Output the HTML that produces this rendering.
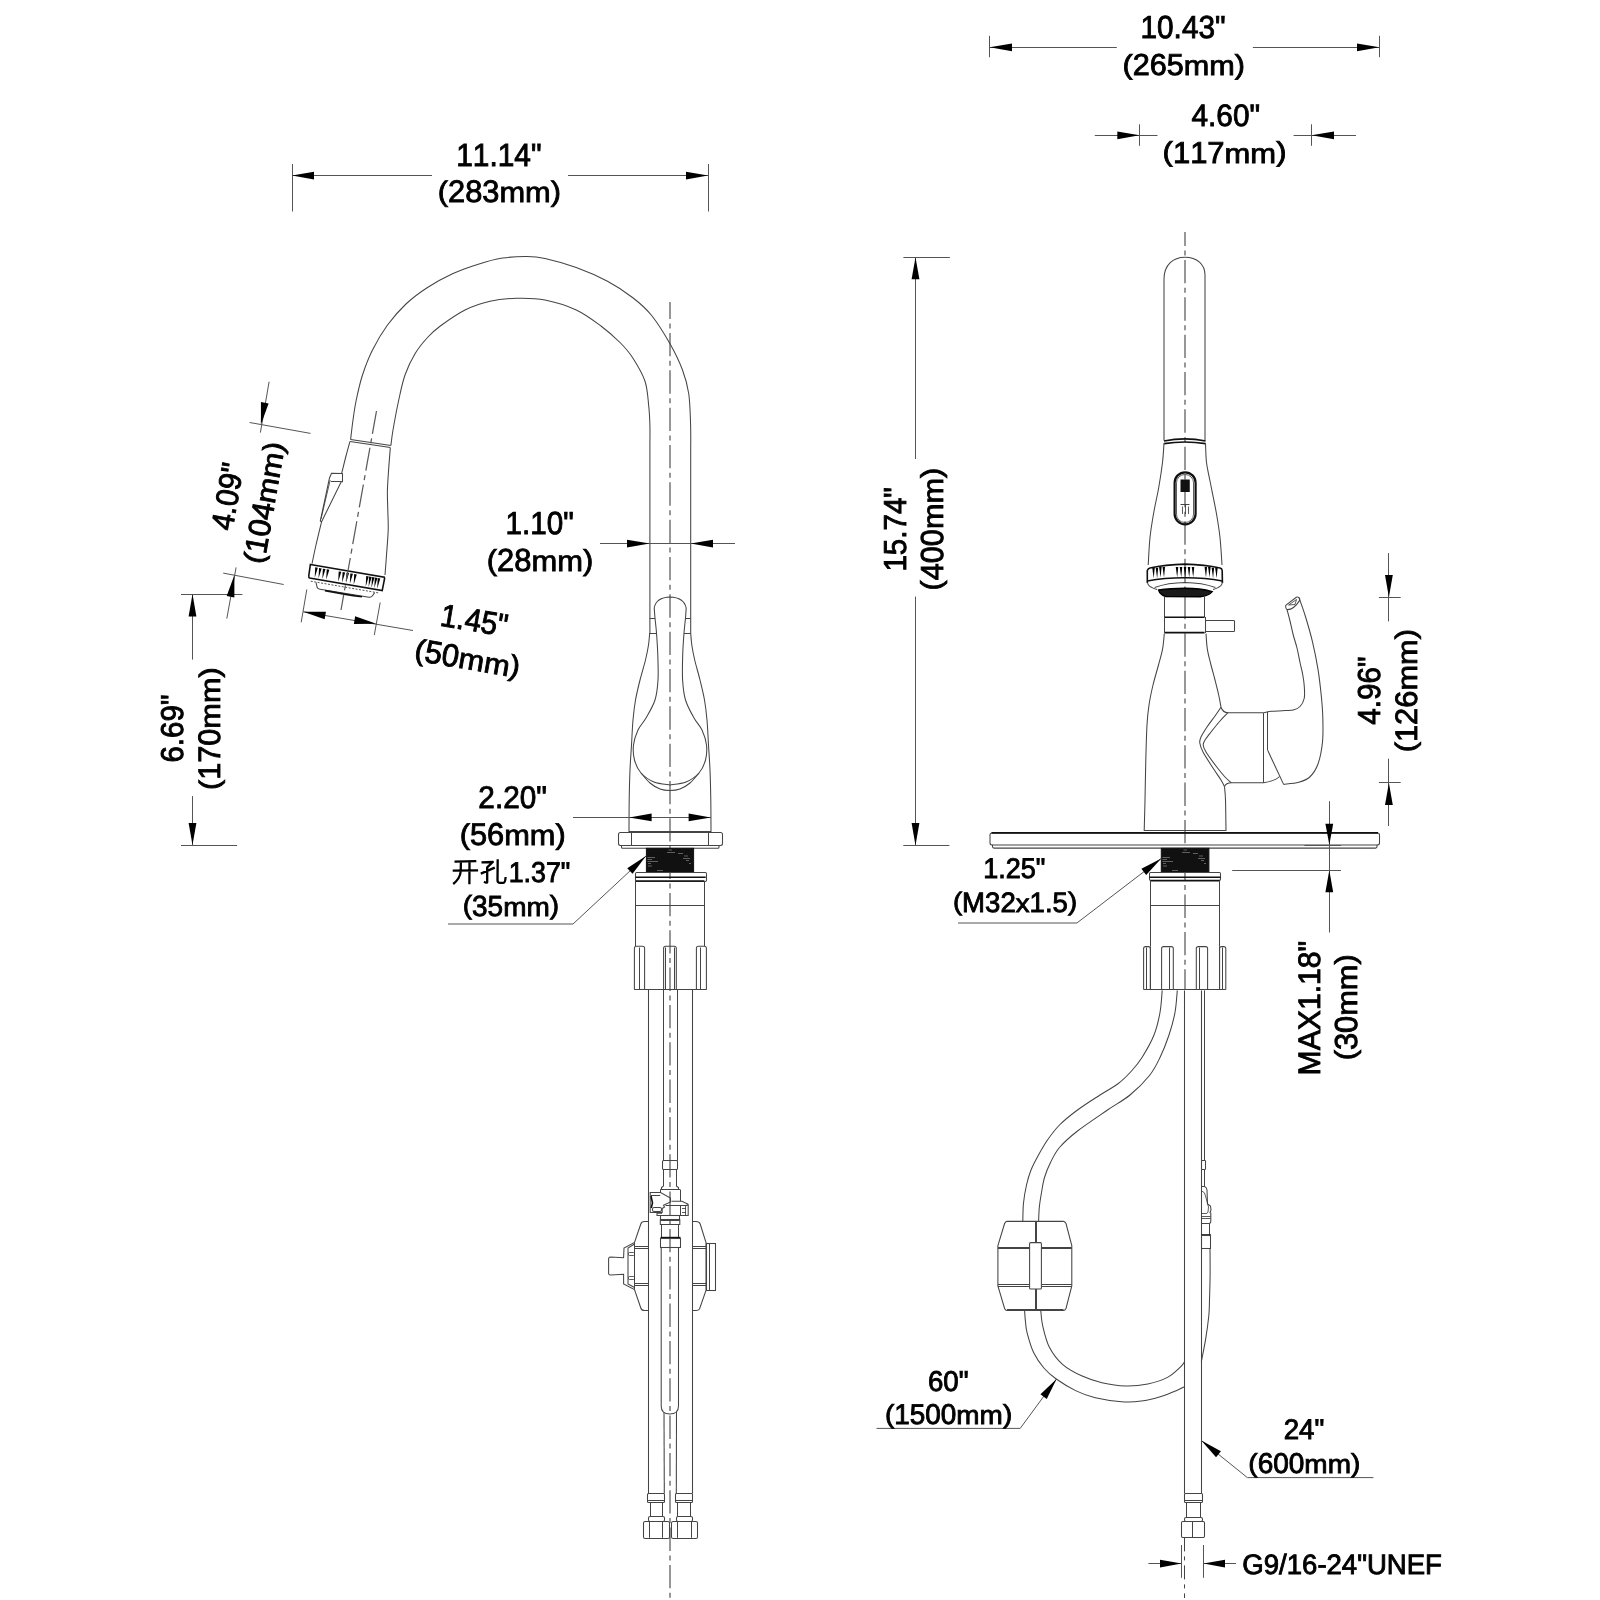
<!DOCTYPE html>
<html><head><meta charset="utf-8"><style>
html,body{margin:0;padding:0;background:#fff;}
svg{display:block;filter:grayscale(1);}
.l{stroke:#444;stroke-width:1.05;fill:none;}
.l2{stroke:#333;stroke-width:0.8;fill:none;}
.lw{stroke:#444;stroke-width:1.05;fill:#fff;}
.thick{stroke:#111;stroke-width:1.6;fill:none;}
.thick2{stroke:#111;stroke-width:2.2;fill:none;}
.c{stroke:#5a5a5a;stroke-width:1.25;fill:none;stroke-dasharray:23.33 4.5 5 4.5;}
.c2{stroke:#444;stroke-width:1;fill:none;stroke-dasharray:14 5 4 5;}
.d{stroke:#555;stroke-width:1;fill:none;}
.a{fill:#000;stroke:none;}
.blk{fill:#111;stroke:#111;stroke-width:1;}
.aer{fill:#1a1a1a;stroke:#000;stroke-width:1.4;}
.tk{stroke:#222;stroke-width:1;fill:none;}
.dot{stroke:#555;stroke-width:1;fill:none;stroke-dasharray:2 1.5;}
.t{font-family:"Liberation Sans",sans-serif;fill:#000;stroke:#000;stroke-width:0.9;font-kerning:none;text-rendering:geometricPrecision;}
.cn path{stroke:#000;stroke-width:2.3;fill:none;stroke-linecap:butt;stroke-linejoin:round;}
</style></head><body>
<svg width="1600" height="1600" viewBox="0 0 1600 1600">
<rect width="1600" height="1600" fill="#fff"/>
<path class="c" style="stroke-dashoffset:6.33" d="M670,302 V1598"/>
<path class="l" d="M350.6,439.6 C351,436.33 352.06,426.6 353,420 C353.94,413.4 354.67,407.5 356.25,400 C357.83,392.5 359.79,383.33 362.5,375 C365.21,366.67 368.33,358.33 372.5,350 C376.67,341.67 381.88,332.71 387.5,325 C393.12,317.29 399.58,310 406.25,303.75 C412.92,297.5 419.79,292.5 427.5,287.5 C435.21,282.5 444.17,277.6 452.5,273.75 C460.83,269.9 469.17,267.01 477.5,264.4 C485.83,261.79 494.25,259.42 502.5,258.1 C510.75,256.78 519.92,256.43 527,256.5 C534.08,256.57 536.79,256.67 545,258.5 C553.21,260.33 565.83,263.71 576.25,267.5 C586.67,271.29 598.12,276.25 607.5,281.25 C616.88,286.25 625.21,291.88 632.5,297.5 C639.79,303.12 645,307.29 651.25,315 C657.5,322.71 664.79,334.58 670,343.75 C675.21,352.92 679.38,361.67 682.5,370 C685.62,378.33 687.4,384.58 688.75,393.75 C690.1,402.92 690.27,415.62 690.6,425 C690.93,434.38 690.68,445.83 690.7,450 L690.7,633"/>
<path class="l" d="M390.9,445.5 C391.25,442.92 391.69,437.58 393,430 C394.31,422.42 396.75,409.17 398.75,400 C400.75,390.83 402.29,382.71 405,375 C407.71,367.29 411.25,360 415,353.75 C418.75,347.5 423.33,342.08 427.5,337.5 C431.67,332.92 433.75,330.83 440,326.25 C446.25,321.67 456.67,314.17 465,310 C473.33,305.83 481.33,303.2 490,301.25 C498.67,299.3 507.83,298.51 517,298.3 C526.17,298.09 535.12,298.05 545,300 C554.88,301.95 566.88,305.62 576.25,310 C585.62,314.38 593.96,320.83 601.25,326.25 C608.54,331.67 614.79,337.29 620,342.5 C625.21,347.71 628.33,351.04 632.5,357.5 C636.67,363.96 642.29,373.12 645,381.25 C647.71,389.38 647.93,398.96 648.75,406.25 C649.57,413.54 649.71,418.54 649.9,425 C650.09,431.46 649.9,441.67 649.9,445 L649.9,633"/>
<line class="l" x1="350.6" y1="439.6" x2="390.9" y2="445.5"/>
<line class="l" x1="350.1" y1="441.6" x2="390.4" y2="447.6"/>
<path class="l" d="M350,441.4 C349.33,443.83 347.29,451.07 346,456 C344.71,460.93 342.88,468.5 342.25,471"/>
<path class="l" d="M321.5,522 C320.58,525.83 317.58,538.05 316,545 C314.42,551.95 312.67,560.58 312,563.7"/>
<line class="l" x1="342.25" y1="471" x2="341.5" y2="474"/>
<path class="l" d="M390.3,447.9 C390.02,451.58 389.08,462.82 388.6,470 C388.12,477.18 387.53,484.33 387.4,491 C387.27,497.67 387.67,503.5 387.8,510 C387.93,516.5 388.42,522.5 388.2,530 C387.98,537.5 387.03,547.5 386.5,555 C385.97,562.5 385.25,571.67 385,575"/>
<path class="l" d="M342.5,473.6 L331.5,473.4 L329.5,478 L320.3,521 L321.5,522 L341.2,481.7 L342.5,481.7 L342.5,473.6"/>
<line class="l" x1="331" y1="481.5" x2="341.5" y2="481.5"/>
<line class="l2" x1="330.2" y1="480" x2="321" y2="519"/>
<path class="thick" d="M310.4,564.5 L384.3,577.2 L384.6,578.5 L382.2,590.6 L309.6,578 Q308.6,577.6 308.8,575.5 Z"/>
<path class="dot" d="M310.7,581.2 L379,593"/>
<path class="a" d="M315.2,567.35 L317.8,567.75 L314.71,577.69 Z"/>
<path class="a" d="M319.03,568.01 L321.63,568.41 L318.55,578.35 Z"/>
<path class="a" d="M322.87,568.67 L325.47,569.07 L322.38,579.01 Z"/>
<path class="a" d="M326.7,569.32 L329.3,569.72 L326.21,579.67 Z"/>
<path class="a" d="M338.7,571.39 L341.3,571.79 L338.21,581.73 Z"/>
<path class="a" d="M342.57,572.05 L345.18,572.45 L342.09,582.4 Z"/>
<path class="a" d="M346.45,572.72 L349.05,573.12 L345.96,583.06 Z"/>
<path class="a" d="M350.32,573.38 L352.93,573.78 L349.84,583.73 Z"/>
<path class="a" d="M354.2,574.05 L356.8,574.45 L353.71,584.39 Z"/>
<path class="a" d="M366.2,576.11 L368.8,576.51 L365.71,586.46 Z"/>
<path class="a" d="M369.07,576.61 L371.68,577.01 L368.59,586.95 Z"/>
<path class="a" d="M371.95,577.1 L374.55,577.5 L371.46,587.44 Z"/>
<path class="a" d="M374.82,577.6 L377.43,578 L374.34,587.94 Z"/>
<path class="a" d="M377.7,578.09 L380.3,578.49 L377.21,588.43 Z"/>
<path class="l" d="M316,582.3 L317.2,587.5 Q317.8,588.9 320,589.3 L369,597.3 Q371.3,597.6 372.5,595.8 L374.6,592.6"/>
<path class="thick" d="M325,590.6 Q345,594.5 362,596.7"/>
<line class="c" x1="376.5" y1="411" x2="341" y2="610"/>
<path class="l" d="M654.2,608 Q656,597.5 670,597 Q684,597.5 686.2,608"/>
<path class="l" d="M654.2,608 C654.33,609.67 654.62,613.83 655,618 C655.38,622.17 656.03,626.83 656.5,633 C656.97,639.17 657.55,647.17 657.8,655 C658.05,662.83 658.47,672.5 658,680 C657.53,687.5 657,693.67 655,700 C653,706.33 648.83,713 646,718 C643.17,723 640.08,725.5 638,730 C635.92,734.5 634.08,740 633.5,745 C632.92,750 633.25,755.33 634.5,760 C635.75,764.67 637.75,769.33 641,773 C644.25,776.67 649.17,780 654,782 C658.83,784 667.33,784.5 670,785"/>
<path class="l" d="M686.2,608 C686.08,609.67 685.87,613.83 685.5,618 C685.13,622.17 684.47,626.83 684,633 C683.53,639.17 682.93,647.17 682.7,655 C682.47,662.83 682.13,672.5 682.6,680 C683.07,687.5 683.6,693.67 685.5,700 C687.4,706.33 691.25,713 694,718 C696.75,723 699.92,725.5 702,730 C704.08,734.5 705.92,740 706.5,745 C707.08,750 706.75,755.33 705.5,760 C704.25,764.67 702.25,769.33 699,773 C695.75,776.67 690.83,780 686,782 C681.17,784 672.67,784.5 670,785"/>
<path class="l" d="M641,773 C642.5,774.67 646.83,780.33 650,783 C653.17,785.67 656.67,787.75 660,789 C663.33,790.25 666.67,790.5 670,790.5 C673.33,790.5 676.67,790.25 680,789 C683.33,787.75 686.83,785.67 690,783 C693.17,780.33 697.5,774.67 699,773"/>
<line class="l" x1="649.7" y1="618.5" x2="655" y2="618.5"/>
<line class="l" x1="649.7" y1="633.5" x2="656.5" y2="633.5"/>
<line class="l" x1="685.5" y1="618.5" x2="690.7" y2="618.5"/>
<line class="l" x1="684" y1="633.5" x2="690.7" y2="633.5"/>
<path class="l" d="M649.7,633 C649.5,635 649.2,640.5 648.5,645 C647.8,649.5 646.92,654.17 645.5,660 C644.08,665.83 641.67,673.33 640,680 C638.33,686.67 636.67,693.33 635.5,700 C634.33,706.67 633.67,712.5 633,720 C632.33,727.5 632,736.67 631.5,745 C631,753.33 630.38,760.83 630,770 C629.62,779.17 629.37,789.67 629.2,800 C629.03,810.33 629.03,826.67 629,832"/>
<path class="l" d="M690.7,633 C690.88,635 691.13,640.5 691.8,645 C692.47,649.5 693.33,654.17 694.7,660 C696.07,665.83 698.37,673.33 700,680 C701.63,686.67 703.33,693.33 704.5,700 C705.67,706.67 706.33,712.5 707,720 C707.67,727.5 708,736.67 708.5,745 C709,753.33 709.62,760.83 710,770 C710.38,779.17 710.63,789.67 710.8,800 C710.97,810.33 710.97,826.67 711,832"/>
<line class="l" x1="629" y1="831.5" x2="711" y2="831.5"/>
<rect class="l" x="618.5" y="832.5" width="104" height="13" rx="2"/>
<line class="l" x1="631.5" y1="832.5" x2="631.5" y2="845.5"/>
<line class="l" x1="708.5" y1="832.5" x2="708.5" y2="845.5"/>
<path class="l" d="M621.5,845.5 L621.5,847.3 Q621.5,848.3 622.5,848.3 L718,848.3 Q719,848.3 719,847.3 L719,845.5"/>
<rect class="blk" x="646.4" y="848.3" width="47.2" height="24.1"/>
<line x1="647.5" y1="857.5" x2="655" y2="857.5" stroke="#999" stroke-width="0.6"/>
<line x1="647.5" y1="859.5" x2="652" y2="859.5" stroke="#999" stroke-width="0.6"/>
<line x1="647.5" y1="861.5" x2="658" y2="861.5" stroke="#999" stroke-width="0.6"/>
<line x1="648" y1="863.5" x2="651" y2="863.5" stroke="#999" stroke-width="0.6"/>
<line x1="648" y1="866" x2="652" y2="866" stroke="#999" stroke-width="0.6"/>
<line x1="657" y1="870.5" x2="663" y2="870.5" stroke="#999" stroke-width="0.6"/>
<line x1="668.5" y1="850" x2="672" y2="850" stroke="#999" stroke-width="0.6"/>
<line x1="667" y1="852.5" x2="675" y2="852.5" stroke="#999" stroke-width="0.6"/>
<line x1="678" y1="853.5" x2="683" y2="853.5" stroke="#999" stroke-width="0.6"/>
<line x1="684" y1="856" x2="688" y2="856" stroke="#999" stroke-width="0.6"/>
<line x1="683" y1="858.5" x2="690" y2="858.5" stroke="#999" stroke-width="0.6"/>
<line x1="686" y1="860.5" x2="689" y2="860.5" stroke="#999" stroke-width="0.6"/>
<line x1="689" y1="863.5" x2="691" y2="863.5" stroke="#999" stroke-width="0.6"/>
<rect class="l" x="635.5" y="872.5" width="71" height="9" rx="1.2"/>
<line class="thick" x1="635.3" y1="877.3" x2="705.7" y2="877.3"/>
<line class="thick" x1="635.6" y1="881" x2="704.4" y2="881"/>
<line class="l" x1="635.5" y1="881" x2="635.5" y2="946"/>
<line class="l" x1="704.5" y1="881" x2="704.5" y2="946"/>
<line class="l" x1="635.6" y1="905.5" x2="704.4" y2="905.5"/>
<line class="l" x1="634.4" y1="989.5" x2="706.4" y2="989.5"/>
<path class="l" d="M634.4,989.8 L634.4,948.3 Q634.4,946.3 636.4,946.3 L642.6,946.3 Q644.6,946.3 644.6,948.3 L644.6,989.8"/>
<line class="l" x1="639.5" y1="947.5" x2="639.5" y2="989.8"/>
<path class="l" d="M663.6,989.8 L663.6,948.3 Q663.6,946.3 665.6,946.3 L674.3,946.3 Q676.3,946.3 676.3,948.3 L676.3,989.8"/>
<line class="l" x1="665.5" y1="947.5" x2="665.5" y2="989.8"/>
<line class="l" x1="674.5" y1="947.5" x2="674.5" y2="989.8"/>
<path class="l" d="M696.4,989.8 L696.4,948.3 Q696.4,946.3 698.4,946.3 L704.4,946.3 Q706.4,946.3 706.4,948.3 L706.4,989.8"/>
<line class="l" x1="700.5" y1="947.5" x2="700.5" y2="989.8"/>
<line class="l" x1="648.5" y1="990" x2="648.5" y2="1493.5"/>
<line class="l" x1="692.5" y1="990" x2="692.5" y2="1493.5"/>
<line class="l" x1="663.5" y1="990" x2="663.5" y2="1160.8"/>
<line class="l" x1="677.5" y1="990" x2="677.5" y2="1160.8"/>
<rect class="l" x="662.5" y="1160.5" width="15" height="9" rx="1"/>
<line class="l" x1="663.5" y1="1169.5" x2="663.5" y2="1186"/>
<line class="l" x1="676.5" y1="1169.5" x2="676.5" y2="1186"/>
<path class="l" d="M663.5,1186 L661.5,1187.5 L661.5,1189.5 M676.2,1186 L678.5,1187.5 L678.5,1189.5"/>
<line class="l" x1="660.3" y1="1189.5" x2="680" y2="1189.5"/>
<line class="l" x1="660.5" y1="1189.5" x2="660.5" y2="1192.5"/>
<line class="l" x1="680.5" y1="1189.5" x2="680.5" y2="1201.3"/>
<path class="l" d="M650.2,1192.5 L660.5,1192.5 L670.5,1198 L670.5,1202 L663.5,1205.3 L664.5,1207 L662.2,1208.5 L662.2,1212.5 L650.2,1212.5 Z"/>
<line class="l" x1="651" y1="1195.5" x2="660.2" y2="1195.5"/>
<path class="thick" d="M651,1196 L652.5,1203 L651.2,1208"/>
<rect class="l" x="652.5" y="1207.5" width="9" height="4" rx="1.5"/>
<path class="l" d="M671.5,1201.3 L682,1201.3 L687.2,1203.8 L687.2,1205.5 L665.5,1205.5"/>
<path class="l" d="M687.2,1203.8 L688.2,1204.5 L688.2,1215.5 L657,1215.5 L657,1213.3 L662,1213.3"/>
<line class="l" x1="680.5" y1="1205.5" x2="680.5" y2="1215.5"/>
<line class="l2" x1="685.5" y1="1206" x2="685.5" y2="1215.5"/>
<line class="l2" x1="682" y1="1208.5" x2="686" y2="1208.5"/>
<line class="l2" x1="682" y1="1212.5" x2="686" y2="1212.5"/>
<rect class="l" x="660.5" y="1215.5" width="19" height="4"/>
<path class="l" d="M660.3,1219.2 L660.3,1224.5 L679.8,1224.5 L679.8,1219.2"/>
<line class="l" x1="660.3" y1="1220.5" x2="679.8" y2="1220.5"/>
<line class="l" x1="661.5" y1="1224.5" x2="661.5" y2="1237.5"/>
<line class="l" x1="678.5" y1="1224.5" x2="678.5" y2="1237.5"/>
<line class="thick" x1="660.5" y1="1237.6" x2="680.5" y2="1237.6"/>
<rect class="l" x="660.5" y="1238.5" width="20" height="9"/>
<path class="l" d="M661.2,1247.4 L661.2,1406 Q661.2,1414 669.8,1414 Q678.5,1414 678.5,1406 L678.5,1247.4"/>
<line class="l" x1="664" y1="1412" x2="664.3" y2="1493.5"/>
<line class="l" x1="676.5" y1="1412" x2="676.3" y2="1493.5"/>
<path class="l" d="M648.5,1221.5 L644.5,1221.5 Q641.5,1221.5 640.8,1224 L634.5,1242.5 L624,1248 L623.6,1257.8 L610.5,1257 Q608.6,1257 608.6,1259 L608.6,1273.5 Q608.6,1275 610.5,1275 L623.6,1274.2 L623.6,1284 L634.5,1289.5 L640.8,1308 Q641.5,1310.5 644.5,1310.5 L648.5,1310.5"/>
<line class="l" x1="634.5" y1="1242.5" x2="634.5" y2="1289.5"/>
<line class="l" x1="634.5" y1="1246.5" x2="648.5" y2="1246.5"/>
<line class="l" x1="634.5" y1="1248.5" x2="648.5" y2="1248.5"/>
<line class="l" x1="634.5" y1="1283.5" x2="648.5" y2="1283.5"/>
<line class="l" x1="634.5" y1="1285.5" x2="648.5" y2="1285.5"/>
<path class="l" d="M634.5,1244 L628,1248 L628,1284 L634.5,1287.5"/>
<rect class="l2" x="628.5" y="1252.5" width="6" height="3" rx="1"/>
<rect class="l2" x="628.5" y="1276.5" width="6" height="3" rx="1"/>
<path class="l" d="M692.1,1221.5 L696,1221.5 Q699.2,1221.5 700.2,1224 L706,1242.5 L706,1290.5 L699.5,1309 Q698.5,1310.5 696,1310.5 L692.1,1310.5"/>
<rect class="l" x="706.5" y="1243.5" width="9" height="47"/>
<line class="l" x1="709.5" y1="1243.5" x2="709.5" y2="1290.5"/>
<line class="l" x1="692.1" y1="1246.5" x2="706" y2="1246.5"/>
<line class="l" x1="692.1" y1="1248.5" x2="706" y2="1248.5"/>
<line class="l" x1="692.1" y1="1283.5" x2="706" y2="1283.5"/>
<line class="l" x1="692.1" y1="1285.5" x2="706" y2="1285.5"/>
<rect class="l" x="647.5" y="1493.5" width="17" height="9" rx="1"/>
<line class="l" x1="648.1" y1="1500.5" x2="664.7" y2="1500.5"/>
<line class="l" x1="650.5" y1="1502.2" x2="650.5" y2="1516.7"/>
<line class="l" x1="662.5" y1="1502.2" x2="662.5" y2="1516.7"/>
<rect class="l" x="648.5" y="1516.5" width="16" height="5" rx="1.6"/>
<rect class="l" x="643.5" y="1521.5" width="26" height="17" rx="1.6"/>
<line class="l" x1="649.5" y1="1521.5" x2="649.5" y2="1537.8"/>
<line class="l" x1="662.5" y1="1521.5" x2="662.5" y2="1537.8"/>
<rect class="l" x="675.5" y="1493.5" width="17" height="9" rx="1"/>
<line class="l" x1="675.9" y1="1500.5" x2="692.5" y2="1500.5"/>
<line class="l" x1="677.5" y1="1502.2" x2="677.5" y2="1516.7"/>
<line class="l" x1="690.5" y1="1502.2" x2="690.5" y2="1516.7"/>
<rect class="l" x="676.5" y="1516.5" width="16" height="5" rx="1.6"/>
<rect class="l" x="671.5" y="1521.5" width="26" height="17" rx="1.6"/>
<line class="l" x1="677.5" y1="1521.5" x2="677.5" y2="1537.8"/>
<line class="l" x1="691.5" y1="1521.5" x2="691.5" y2="1537.8"/>
<line class="d" x1="292.5" y1="164" x2="292.5" y2="211.5"/>
<line class="d" x1="708.5" y1="164" x2="708.5" y2="211.5"/>
<line class="d" x1="292" y1="175.5" x2="432" y2="175.5"/>
<line class="d" x1="568" y1="175.5" x2="708" y2="175.5"/>
<path class="a" d="M292,175.6 L314,171.7 L314,179.5 Z"/>
<path class="a" d="M708,175.6 L686,179.5 L686,171.7 Z"/>
<text class="t" x="456.17" y="166" font-size="32.17" textLength="85.34" lengthAdjust="spacingAndGlyphs">11.14&quot;</text>
<text class="t" x="437.74" y="202.4" font-size="31.16" textLength="10.26" lengthAdjust="spacingAndGlyphs" transform="translate(0,200.9) scale(1,0.905) translate(0,-202.4)">(</text><text class="t" x="448" y="202.4" font-size="31.16" textLength="51.39" lengthAdjust="spacingAndGlyphs">283</text><text class="t" x="499.39" y="202.4" font-size="31.16" textLength="51.32" lengthAdjust="spacingAndGlyphs" transform="translate(0,202.4) scale(1,0.91) translate(0,-202.4)">mm</text><text class="t" x="550.7" y="202.4" font-size="31.16" textLength="10.26" lengthAdjust="spacingAndGlyphs" transform="translate(0,200.9) scale(1,0.905) translate(0,-202.4)">)</text>
<line class="d" x1="600" y1="543.5" x2="735" y2="543.5"/>
<path class="a" d="M649.7,543.6 L627,547.5 L627,539.7 Z"/>
<path class="a" d="M690.7,543.6 L713,539.7 L713,547.5 Z"/>
<text class="t" x="505.59" y="533.9" font-size="31.88" textLength="68.22" lengthAdjust="spacingAndGlyphs">1.10&quot;</text>
<text class="t" x="486.78" y="571.4" font-size="31.88" textLength="10.29" lengthAdjust="spacingAndGlyphs" transform="translate(0,569.88) scale(1,0.905) translate(0,-571.4)">(</text><text class="t" x="497.07" y="571.4" font-size="31.88" textLength="34.37" lengthAdjust="spacingAndGlyphs">28</text><text class="t" x="531.44" y="571.4" font-size="31.88" textLength="51.48" lengthAdjust="spacingAndGlyphs" transform="translate(0,571.4) scale(1,0.91) translate(0,-571.4)">mm</text><text class="t" x="582.93" y="571.4" font-size="31.88" textLength="10.29" lengthAdjust="spacingAndGlyphs" transform="translate(0,569.88) scale(1,0.905) translate(0,-571.4)">)</text>
<line class="d" x1="573" y1="817.5" x2="711" y2="817.5"/>
<path class="a" d="M629.2,817.4 L651.6,813.5 L651.6,821.3 Z"/>
<path class="a" d="M710.8,817.4 L688.6,821.3 L688.6,813.5 Z"/>
<text class="t" x="478.35" y="807.9" font-size="31.3" textLength="68.46" lengthAdjust="spacingAndGlyphs">2.20&quot;</text>
<text class="t" x="459.64" y="845.25" font-size="31.45" textLength="10.25" lengthAdjust="spacingAndGlyphs" transform="translate(0,843.74) scale(1,0.905) translate(0,-845.25)">(</text><text class="t" x="469.89" y="845.25" font-size="31.45" textLength="34.24" lengthAdjust="spacingAndGlyphs">56</text><text class="t" x="504.13" y="845.25" font-size="31.45" textLength="51.28" lengthAdjust="spacingAndGlyphs" transform="translate(0,845.25) scale(1,0.91) translate(0,-845.25)">mm</text><text class="t" x="555.41" y="845.25" font-size="31.45" textLength="10.25" lengthAdjust="spacingAndGlyphs" transform="translate(0,843.74) scale(1,0.905) translate(0,-845.25)">)</text>
<path class="d" d="M646,856 L573,924 L448,924"/>
<path class="a" d="M646,856 L632.56,873.85 L627.24,868.15 Z"/>
<text class="t" x="508.66" y="881.7" font-size="28.55" textLength="61.63" lengthAdjust="spacingAndGlyphs">1.37&quot;</text>
<text class="t" x="462.71" y="915.5" font-size="28.99" textLength="9.32" lengthAdjust="spacingAndGlyphs" transform="translate(0,914.07) scale(1,0.905) translate(0,-915.5)">(</text><text class="t" x="472.03" y="915.5" font-size="28.99" textLength="31.12" lengthAdjust="spacingAndGlyphs">35</text><text class="t" x="503.15" y="915.5" font-size="28.99" textLength="46.61" lengthAdjust="spacingAndGlyphs" transform="translate(0,915.5) scale(1,0.91) translate(0,-915.5)">mm</text><text class="t" x="549.77" y="915.5" font-size="28.99" textLength="9.32" lengthAdjust="spacingAndGlyphs" transform="translate(0,914.07) scale(1,0.905) translate(0,-915.5)">)</text>
<line class="d" x1="181" y1="594.5" x2="242.4" y2="594.5"/>
<line class="d" x1="181" y1="845.5" x2="237.1" y2="845.5"/>
<line class="d" x1="192.5" y1="594" x2="192.5" y2="659.6"/>
<line class="d" x1="192.5" y1="796.1" x2="192.5" y2="845.1"/>
<path class="a" d="M192.5,594 L196.4,616.5 L188.6,616.5 Z"/>
<path class="a" d="M192.5,845.1 L188.6,823 L196.4,823 Z"/>
<g transform="translate(182.8,761.5) rotate(-90)"><text class="t" x="-1.05" y="0" font-size="31.59" textLength="67.95" lengthAdjust="spacingAndGlyphs">6.69&quot;</text></g>
<g transform="translate(220,788.6) rotate(-90)"><text class="t" x="-1.45" y="0" font-size="31.01" textLength="10.22" lengthAdjust="spacingAndGlyphs" transform="translate(0,-1.49) scale(1,0.905) translate(0,0)">(</text><text class="t" x="8.77" y="0" font-size="31.01" textLength="51.2" lengthAdjust="spacingAndGlyphs">170</text><text class="t" x="59.96" y="0" font-size="31.01" textLength="51.12" lengthAdjust="spacingAndGlyphs" transform="translate(0,0) scale(1,0.91) translate(0,0)">mm</text><text class="t" x="111.08" y="0" font-size="31.01" textLength="10.22" lengthAdjust="spacingAndGlyphs" transform="translate(0,-1.49) scale(1,0.905) translate(0,0)">)</text></g>
<line class="d" x1="269.1" y1="381.7" x2="260.4" y2="432.6"/>
<line class="d" x1="236.1" y1="567.4" x2="226.8" y2="618.6"/>
<path class="a" d="M260.9,424.4 L260.93,402.06 L268.61,403.43 Z"/>
<path class="a" d="M234.4,575.1 L234.37,597.44 L226.69,596.07 Z"/>
<line class="d" x1="249.6" y1="422.5" x2="310.5" y2="433.4"/>
<line class="d" x1="223.2" y1="573.1" x2="283.7" y2="584.5"/>
<g transform="translate(232.3,531.3) rotate(-80)"><text class="t" x="-0.22" y="0" font-size="31.3" textLength="67.52" lengthAdjust="spacingAndGlyphs">4.09&quot;</text></g>
<g transform="translate(264.2,563.5) rotate(-80)"><text class="t" x="-1.46" y="0" font-size="31.01" textLength="10.23" lengthAdjust="spacingAndGlyphs" transform="translate(0,-1.49) scale(1,0.905) translate(0,0)">(</text><text class="t" x="8.78" y="0" font-size="31.01" textLength="51.26" lengthAdjust="spacingAndGlyphs">104</text><text class="t" x="60.04" y="0" font-size="31.01" textLength="51.19" lengthAdjust="spacingAndGlyphs" transform="translate(0,0) scale(1,0.91) translate(0,0)">mm</text><text class="t" x="111.22" y="0" font-size="31.01" textLength="10.23" lengthAdjust="spacingAndGlyphs" transform="translate(0,-1.49) scale(1,0.905) translate(0,0)">)</text></g>
<line class="d" x1="303.2" y1="611.75" x2="413" y2="630.5"/>
<path class="a" d="M303.2,611.75 L325.95,611.65 L324.65,619.35 Z"/>
<path class="a" d="M376.3,623.8 L353.85,623.95 L355.15,616.25 Z"/>
<line class="d" x1="306.8" y1="589.5" x2="301.2" y2="622.3"/>
<line class="d" x1="380.2" y1="602.5" x2="374.3" y2="635"/>
<g transform="translate(441,625.8) rotate(9.6)"><text class="t" x="-1.79" y="0" font-size="31.88" textLength="67.58" lengthAdjust="spacingAndGlyphs">1.45&quot;</text></g>
<g transform="translate(414.7,660.4) rotate(9.6)"><text class="t" x="-1.47" y="0" font-size="31.88" textLength="10.29" lengthAdjust="spacingAndGlyphs" transform="translate(0,-1.52) scale(1,0.905) translate(0,0)">(</text><text class="t" x="8.82" y="0" font-size="31.88" textLength="34.37" lengthAdjust="spacingAndGlyphs">50</text><text class="t" x="43.19" y="0" font-size="31.88" textLength="51.48" lengthAdjust="spacingAndGlyphs" transform="translate(0,0) scale(1,0.91) translate(0,0)">mm</text><text class="t" x="94.68" y="0" font-size="31.88" textLength="10.29" lengthAdjust="spacingAndGlyphs" transform="translate(0,-1.52) scale(1,0.905) translate(0,0)">)</text></g>
<path class="c" style="stroke-dashoffset:9.33" d="M1185,232 V990"/>
<path class="l" d="M1164,440.5 L1164,279 C1164,265 1173,257.2 1185,257.2 C1197,257.2 1205,264.5 1205,275 L1205,440.5"/>
<path class="thick" d="M1164,441 Q1185,436.8 1205.6,441"/>
<path class="thick" d="M1164,443.6 Q1185,440.5 1205.6,443.6"/>
<path class="l" d="M1164,443 C1163.75,446.25 1163.38,455.08 1162.5,462.5 C1161.62,469.92 1160.21,479.17 1158.75,487.5 C1157.29,495.83 1155.21,504.17 1153.75,512.5 C1152.29,520.83 1150.92,528.75 1150,537.5 C1149.08,546.25 1148.5,560.42 1148.2,565"/>
<path class="l" d="M1205.5,443 C1205.67,446.25 1205.75,456.17 1206.5,462.5 C1207.25,468.83 1208.38,472.67 1210,481 C1211.62,489.33 1214.58,503.08 1216.25,512.5 C1217.92,521.92 1219.04,528.75 1220,537.5 C1220.96,546.25 1221.67,560.42 1222,565"/>
<rect class="thick2" x="1174.6" y="472.3" width="21" height="52" rx="10.5"/>
<rect class="l2" x="1176.5" y="474.5" width="17" height="48" rx="8.3"/>
<rect class="blk" x="1181" y="480" width="8.2" height="11.5"/>
<line class="l" x1="1180.5" y1="504.5" x2="1189.5" y2="504.5"/>
<line class="l2" x1="1182.5" y1="506.5" x2="1182.5" y2="514"/>
<line class="l2" x1="1185.5" y1="504.5" x2="1185.5" y2="514"/>
<line class="l2" x1="1188.5" y1="506.5" x2="1188.5" y2="514"/>
<path class="thick" d="M1147.3,583 L1147.3,570.5 Q1148,568.5 1150,568 Q1165,564.6 1185,564.1 Q1205,564.6 1220,568 Q1222,568.5 1222.2,570.5 L1222.4,583"/>
<path class="thick" d="M1147.4,581 Q1165,577.6 1185,577.7 Q1205,577.6 1222.3,581"/>
<path class="l" d="M1147.5,582.5 Q1148,586 1152,587.6 Q1154,588.6 1157,589.6"/>
<path class="l" d="M1222.3,582.5 Q1221.8,586 1218,587.6 Q1216,588.6 1213,589.6"/>
<path class="l" d="M1154.6,587.4 Q1168,582.6 1185,582.4 Q1202,582.6 1215.4,587.4"/>
<path class="a" d="M1152.25,567.8 L1154.75,567.8 L1153.7,578.3 Z"/>
<path class="a" d="M1155.68,567.8 L1158.18,567.8 L1157.13,578.3 Z"/>
<path class="a" d="M1159.12,566.9 L1161.62,566.9 L1160.57,577.4 Z"/>
<path class="a" d="M1162.55,566.9 L1165.05,566.9 L1164,577.4 Z"/>
<path class="a" d="M1175.75,566.9 L1178.25,566.9 L1177.2,577.4 Z"/>
<path class="a" d="M1179.75,566.9 L1182.25,566.9 L1181.2,577.4 Z"/>
<path class="a" d="M1183.75,566.9 L1186.25,566.9 L1185.2,577.4 Z"/>
<path class="a" d="M1187.75,566.9 L1190.25,566.9 L1189.2,577.4 Z"/>
<path class="a" d="M1191.75,566.9 L1194.25,566.9 L1193.2,577.4 Z"/>
<path class="a" d="M1204.55,566.9 L1207.05,566.9 L1206,577.4 Z"/>
<path class="a" d="M1208.08,566.9 L1210.58,566.9 L1209.53,577.4 Z"/>
<path class="a" d="M1211.62,567.8 L1214.12,567.8 L1213.07,578.3 Z"/>
<path class="a" d="M1215.15,567.8 L1217.65,567.8 L1216.6,578.3 Z"/>
<path class="aer" d="M1158.6,590 Q1160,594.8 1166,596.6 L1200,596.8 Q1209,595.6 1212.2,591.6 Q1200,588.3 1185,588.3 Q1170,588.3 1158.6,590 Z"/>
<line class="l" x1="1164.5" y1="597" x2="1164.5" y2="617"/>
<line class="l" x1="1204.5" y1="597" x2="1204.5" y2="617"/>
<line class="thick" x1="1164.3" y1="617.3" x2="1204.6" y2="617.3"/>
<line class="thick" x1="1164.3" y1="632.6" x2="1204.6" y2="632.6"/>
<line class="l" x1="1164.5" y1="617" x2="1164.5" y2="633"/>
<line class="l" x1="1205.5" y1="617" x2="1205.5" y2="633"/>
<rect class="l" x="1205.5" y="620.5" width="29" height="11" rx="0.8"/>
<path class="l" d="M1164.3,633.6 C1164.02,636.13 1163.57,643.57 1162.6,648.8 C1161.63,654.03 1160.1,658.97 1158.5,665 C1156.9,671.03 1154.58,678.33 1153,685 C1151.42,691.67 1150,698.33 1149,705 C1148,711.67 1147.53,715.83 1147,725 C1146.47,734.17 1146.13,747.5 1145.8,760 C1145.47,772.5 1145.27,788.17 1145,800 C1144.73,811.83 1144.33,825.83 1144.2,831"/>
<path class="l" d="M1206,633.6 C1206.22,636.13 1206.55,643.9 1207.3,648.8 C1208.05,653.7 1209.22,657.8 1210.5,663 C1211.78,668.2 1213.62,674.58 1215,680 C1216.38,685.42 1217.8,690.97 1218.8,695.5 C1219.8,700.03 1220.63,705.25 1221,707.2"/>
<path class="l" d="M1221,707.2 Q1223,712.7 1228,712.7 L1263.7,712.7"/>
<path class="l" d="M1221,707.2 C1220,708.67 1217.33,712.7 1215,716 C1212.67,719.3 1209.33,723.5 1207,727 C1204.67,730.5 1202.2,734.33 1201,737 C1199.8,739.67 1199.47,740.5 1199.8,743 C1200.13,745.5 1200.8,747.83 1203,752 C1205.2,756.17 1210,763.33 1213,768 C1216,772.67 1219.08,776.92 1221,780 C1222.92,783.08 1223.92,785.42 1224.5,786.5"/>
<path class="l" d="M1228,712.7 C1226.67,714.08 1222.83,717.78 1220,721 C1217.17,724.22 1213.5,728.83 1211,732 C1208.5,735.17 1206.3,737.83 1205,740 C1203.7,742.17 1203.03,743 1203.2,745 C1203.37,747 1203.87,748.5 1206,752 C1208.13,755.5 1212.83,761.83 1216,766 C1219.17,770.17 1222.43,774.2 1225,777 C1227.57,779.8 1230.33,781.83 1231.4,782.8"/>
<path class="l" d="M1224.5,786.5 Q1226,783 1231.4,782.8 L1263.7,782.8"/>
<path class="l" d="M1224.5,786.5 C1224.67,788.75 1225.25,792.58 1225.5,800 C1225.75,807.42 1225.92,825.83 1226,831"/>
<line class="l" x1="1263.5" y1="712.7" x2="1263.5" y2="782.8"/>
<line class="l" x1="1267.5" y1="711.8" x2="1267.5" y2="750.5"/>
<line class="l" x1="1267.8" y1="750.5" x2="1283.6" y2="784.4"/>
<path class="l" d="M1263.7,782.8 Q1275,781 1279.5,776.5"/>
<line class="l" x1="1264" y1="712.7" x2="1267.8" y2="711.8"/>
<path class="l" d="M1283.6,784.4 C1286.12,784.05 1294.39,783.53 1298.75,782.3 C1303.11,781.07 1306.54,780.05 1309.75,777 C1312.96,773.95 1315.88,769.83 1318,764 C1320.12,758.17 1321.7,749.75 1322.5,742 C1323.3,734.25 1322.98,725 1322.8,717.5 C1322.62,710 1322.2,705.02 1321.4,697 C1320.6,688.98 1319.48,678.58 1318,669.4 C1316.52,660.22 1314.57,650.63 1312.5,641.9 C1310.43,633.17 1307.72,623.98 1305.6,617 C1303.48,610.02 1300.98,603.28 1299.8,600 C1298.62,596.72 1298.72,597.75 1298.5,597.3"/>
<path class="l" d="M1287,609.6 C1287.5,611.5 1288.96,616.77 1290,621 C1291.04,625.23 1292.08,630.5 1293.25,635 C1294.42,639.5 1295.88,643.42 1297,648 C1298.12,652.58 1299.03,658 1300,662.5 C1300.97,667 1302.09,671.08 1302.8,675 C1303.51,678.92 1304.01,682.12 1304.25,686 C1304.49,689.88 1304.96,694.83 1304.25,698.25 C1303.54,701.67 1301.83,704.54 1300,706.5 C1298.17,708.46 1295.75,709.32 1293.25,710 C1290.75,710.68 1288.67,710.38 1285,710.6 C1281.33,710.82 1274.12,711.1 1271.25,711.3 C1268.38,711.5 1268.38,711.72 1267.8,711.8"/>
<path class="l" d="M1285.7,605.4 L1296.3,597.3 Q1298.5,596.5 1299.7,598.6 L1299.5,600.6 Q1293.5,610 1287,609.6 Q1285.2,608 1285.7,605.4 Z"/>
<path class="l2" d="M1288.6,605 L1296.5,599.5 L1295,604.5 Z"/>
<rect class="l" x="990" y="833" width="389.5" height="12" rx="2"/>
<line class="thick" x1="991.5" y1="832.9" x2="1378" y2="832.9"/>
<path class="l" d="M992.5,844.8 L992.5,846.8 Q992.5,848.1 994,848.1 L1375.5,848.1 Q1377,848.1 1377,846.8 L1377,844.8"/>
<rect class="blk" x="1161.3" y="848.3" width="47.6" height="23.9"/>
<line x1="1162.5" y1="857.5" x2="1170" y2="857.5" stroke="#999" stroke-width="0.6"/>
<line x1="1162.5" y1="859.5" x2="1167" y2="859.5" stroke="#999" stroke-width="0.6"/>
<line x1="1162.5" y1="861.5" x2="1173" y2="861.5" stroke="#999" stroke-width="0.6"/>
<line x1="1163" y1="863.5" x2="1166" y2="863.5" stroke="#999" stroke-width="0.6"/>
<line x1="1163" y1="866" x2="1167" y2="866" stroke="#999" stroke-width="0.6"/>
<line x1="1172" y1="870.5" x2="1178" y2="870.5" stroke="#999" stroke-width="0.6"/>
<line x1="1183.5" y1="850" x2="1187" y2="850" stroke="#999" stroke-width="0.6"/>
<line x1="1182" y1="852.5" x2="1190" y2="852.5" stroke="#999" stroke-width="0.6"/>
<line x1="1193" y1="853.5" x2="1198" y2="853.5" stroke="#999" stroke-width="0.6"/>
<line x1="1199" y1="856" x2="1203" y2="856" stroke="#999" stroke-width="0.6"/>
<line x1="1198" y1="858.5" x2="1205" y2="858.5" stroke="#999" stroke-width="0.6"/>
<line x1="1201" y1="860.5" x2="1204" y2="860.5" stroke="#999" stroke-width="0.6"/>
<line x1="1204" y1="863.5" x2="1206" y2="863.5" stroke="#999" stroke-width="0.6"/>
<rect class="l" x="1149.5" y="872.5" width="71" height="8" rx="1.2"/>
<line class="thick" x1="1149.5" y1="877.2" x2="1220.4" y2="877.2"/>
<line class="thick" x1="1150.3" y1="880.6" x2="1219.9" y2="880.6"/>
<line class="l" x1="1150.5" y1="880.4" x2="1150.5" y2="946.4"/>
<line class="l" x1="1219.5" y1="880.4" x2="1219.5" y2="946.4"/>
<line class="l" x1="1150.3" y1="905.5" x2="1219.9" y2="905.5"/>
<line class="l" x1="1143.6" y1="989.5" x2="1225.8" y2="989.5"/>
<line class="l" x1="1150.5" y1="946.4" x2="1150.5" y2="989.6"/>
<line class="l" x1="1219.5" y1="946.4" x2="1219.5" y2="989.6"/>
<path class="l" d="M1143.6,989.6 L1143.6,948.6 Q1143.6,946.6 1145.6,946.6 L1148.3,946.6 Q1150.3,946.6 1150.3,948.6 L1150.3,989.6"/>
<line class="l" x1="1146.5" y1="947.5" x2="1146.5" y2="989.6"/>
<path class="l" d="M1161.6,989.6 L1161.6,948.6 Q1161.6,946.6 1163.6,946.6 L1171.3,946.6 Q1173.3,946.6 1173.3,948.6 L1173.3,989.6"/>
<line class="l" x1="1169.5" y1="947.5" x2="1169.5" y2="989.6"/>
<path class="l" d="M1196.3,989.6 L1196.3,948.6 Q1196.3,946.6 1198.3,946.6 L1205.6,946.6 Q1207.6,946.6 1207.6,948.6 L1207.6,989.6"/>
<line class="l" x1="1199.5" y1="947.5" x2="1199.5" y2="989.6"/>
<path class="l" d="M1219.6,989.6 L1219.6,948.6 Q1219.6,946.6 1221.6,946.6 L1223.8,946.6 Q1225.8,946.6 1225.8,948.6 L1225.8,989.6"/>
<line class="l" x1="1222.5" y1="947.5" x2="1222.5" y2="989.6"/>
<line class="l" x1="1144" y1="830.5" x2="1225.8" y2="830.5"/>
<line class="l" x1="1184.5" y1="990.4" x2="1184.5" y2="1493.4"/>
<line class="l" x1="1201.5" y1="990.4" x2="1201.5" y2="1493.4"/>
<line class="l" x1="1204.5" y1="990.4" x2="1204.5" y2="1160.3"/>
<rect class="l" x="1201.5" y="1160.5" width="4" height="9" rx="0.8"/>
<line class="l" x1="1204.5" y1="1169.3" x2="1204.5" y2="1186"/>
<path class="l" d="M1201.3,1186.5 L1204.5,1186.5 Q1206.5,1187 1207,1190 L1207.5,1204 L1210.5,1206 L1211,1210 L1210,1212.5 L1210.8,1213 L1210.8,1221 Q1210.8,1223.5 1209,1223.5 L1201.3,1223.5"/>
<path class="l2" d="M1201.8,1191 Q1205,1192 1205.5,1196 L1208.5,1207 L1208,1212 Q1207.5,1214 1205,1213.5 L1201.3,1213.5"/>
<line class="l2" x1="1201.3" y1="1216.5" x2="1210.6" y2="1216.5"/>
<line class="l2" x1="1201.3" y1="1218.5" x2="1210.6" y2="1218.5"/>
<line class="l" x1="1209.5" y1="1223.5" x2="1209.5" y2="1235"/>
<line class="thick" x1="1201.3" y1="1235" x2="1210.8" y2="1235"/>
<rect class="l" x="1201.5" y="1235.5" width="9" height="13"/>
<path class="l" d="M1210,1248 C1210.02,1252.5 1210.18,1266.33 1210.1,1275 C1210.02,1283.67 1209.72,1293.21 1209.5,1300 C1209.28,1306.79 1209.45,1309.18 1208.8,1315.75 C1208.15,1322.32 1206.85,1331.74 1205.6,1339.4 C1204.35,1347.06 1202.02,1357.98 1201.3,1361.7"/>
<path class="l" d="M1162.2,990.4 C1161.83,994.08 1161.37,1005.07 1160,1012.5 C1158.63,1019.93 1157,1027.5 1154,1035 C1151,1042.5 1145.75,1051.5 1142,1057.5 C1138.25,1063.5 1135.5,1066.62 1131.5,1071 C1127.5,1075.38 1123.25,1079.75 1118,1083.75 C1112.75,1087.75 1106.75,1090.62 1100,1095 C1093.25,1099.38 1084.25,1105 1077.5,1110 C1070.75,1115 1064.5,1120 1059.5,1125 C1054.5,1130 1051,1135 1047.5,1140 C1044,1145 1041.25,1150 1038.5,1155 C1035.75,1160 1033,1165 1031,1170 C1029,1175 1027.75,1179.5 1026.5,1185 C1025.25,1190.5 1024.12,1196.92 1023.5,1203 C1022.88,1209.08 1022.92,1218.42 1022.8,1221.5"/>
<path class="l" d="M1177.3,990.4 C1176.92,994.08 1176.38,1005.07 1175,1012.5 C1173.62,1019.93 1171.5,1027.5 1169,1035 C1166.5,1042.5 1163.25,1050.75 1160,1057.5 C1156.75,1064.25 1154.5,1069.25 1149.5,1075.5 C1144.5,1081.75 1137,1089.25 1130,1095 C1123,1100.75 1116.25,1104 1107.5,1110 C1098.75,1116 1085.5,1124.75 1077.5,1131 C1069.5,1137.25 1064,1142.25 1059.5,1147.5 C1055,1152.75 1053,1157.5 1050.5,1162.5 C1048,1167.5 1046,1172.5 1044.5,1177.5 C1043,1182.5 1042.37,1187.5 1041.5,1192.5 C1040.63,1197.5 1039.78,1202.67 1039.3,1207.5 C1038.82,1212.33 1038.72,1219.17 1038.6,1221.5"/>
<path class="l" d="M1007,1221.2 L1063.5,1221.2 Q1065,1221.5 1066,1223.5 L1071.8,1245.5 L1071.8,1286 L1066,1308.5 Q1065,1310.5 1063.5,1310.5 L1007,1310.5 Q1005.5,1310.5 1004.6,1308.5 L997.9,1286 L997.9,1245.5 L1004.6,1223.5 Q1005.5,1221.5 1007,1221.2 Z"/>
<line class="l" x1="1007" y1="1221.5" x2="1063.5" y2="1221.5"/>
<line class="l" x1="1007" y1="1309.5" x2="1063.5" y2="1309.5"/>
<line class="l" x1="997.9" y1="1247.5" x2="1071.8" y2="1247.5"/>
<line class="l" x1="997.9" y1="1248.5" x2="1071.8" y2="1248.5"/>
<line class="l" x1="997.9" y1="1284.5" x2="1071.8" y2="1284.5"/>
<line class="l" x1="997.9" y1="1286.5" x2="1071.8" y2="1286.5"/>
<line class="l" x1="1035.5" y1="1221.2" x2="1035.5" y2="1310.5"/>
<line class="l" x1="1036.5" y1="1221.2" x2="1036.5" y2="1310.5"/>
<rect class="lw" x="1029.6" y="1242.6" width="11.8" height="46.4" rx="1"/>
<path class="l" d="M1024.6,1311 C1024.75,1312.83 1025.08,1318.37 1025.5,1322 C1025.92,1325.63 1025.75,1327.72 1027.1,1332.8 C1028.45,1337.88 1030.77,1346.59 1033.6,1352.5 C1036.43,1358.41 1040.38,1363.88 1044.1,1368.25 C1047.82,1372.62 1050.65,1375.03 1055.9,1378.75 C1061.15,1382.47 1069.03,1387.42 1075.6,1390.6 C1082.17,1393.77 1087.63,1395.95 1095.3,1397.8 C1102.97,1399.65 1113.94,1401.15 1121.6,1401.7 C1129.26,1402.25 1134.68,1401.97 1141.25,1401.1 C1147.82,1400.23 1155.09,1398.25 1161,1396.5 C1166.91,1394.75 1172.77,1392.25 1176.7,1390.6 C1180.63,1388.95 1183.28,1387.27 1184.6,1386.6"/>
<path class="l" d="M1040.8,1311 C1041.13,1313.54 1041.37,1320.21 1042.8,1326.25 C1044.23,1332.29 1046.12,1340.91 1049.4,1347.25 C1052.68,1353.59 1057.03,1359.49 1062.5,1364.3 C1067.97,1369.11 1075.63,1373.03 1082.2,1376.1 C1088.77,1379.17 1094.68,1381.05 1101.9,1382.7 C1109.12,1384.35 1117.85,1385.78 1125.5,1386 C1133.15,1386.22 1140.8,1385.43 1147.8,1384 C1154.8,1382.57 1162.03,1380.25 1167.5,1377.4 C1172.97,1374.55 1177.75,1369.52 1180.6,1366.9 C1183.45,1364.28 1183.93,1362.57 1184.6,1361.7"/>
<rect class="l" x="1184.5" y="1493.5" width="18" height="9" rx="1"/>
<line class="l" x1="1184.2" y1="1500.5" x2="1202.4" y2="1500.5"/>
<line class="l" x1="1186.5" y1="1502.4" x2="1186.5" y2="1517"/>
<line class="l" x1="1200.5" y1="1502.4" x2="1200.5" y2="1517"/>
<rect class="l" x="1184.5" y="1517.5" width="18" height="4" rx="1.6"/>
<rect class="l" x="1181.5" y="1521.5" width="23" height="16" rx="1.2"/>
<line class="l" x1="1192.5" y1="1521.6" x2="1192.5" y2="1537.2"/>
<line class="c2" x1="1184.5" y1="1537.4" x2="1184.5" y2="1598"/>
<line class="d" x1="989.5" y1="35.8" x2="989.5" y2="57.2"/>
<line class="d" x1="1379.5" y1="35.8" x2="1379.5" y2="57.2"/>
<line class="d" x1="989.7" y1="47.5" x2="1116.8" y2="47.5"/>
<line class="d" x1="1252.9" y1="47.5" x2="1379.4" y2="47.5"/>
<path class="a" d="M989.7,47.3 L1012,43.4 L1012,51.2 Z"/>
<path class="a" d="M1379.4,47.3 L1357,51.2 L1357,43.4 Z"/>
<text class="t" x="1140.48" y="38" font-size="31.88" textLength="85.14" lengthAdjust="spacingAndGlyphs">10.43&quot;</text>
<text class="t" x="1122.45" y="75.1" font-size="30.29" textLength="10.21" lengthAdjust="spacingAndGlyphs" transform="translate(0,73.63) scale(1,0.905) translate(0,-75.1)">(</text><text class="t" x="1132.66" y="75.1" font-size="30.29" textLength="51.13" lengthAdjust="spacingAndGlyphs">265</text><text class="t" x="1183.79" y="75.1" font-size="30.29" textLength="51.06" lengthAdjust="spacingAndGlyphs" transform="translate(0,75.1) scale(1,0.91) translate(0,-75.1)">mm</text><text class="t" x="1234.84" y="75.1" font-size="30.29" textLength="10.21" lengthAdjust="spacingAndGlyphs" transform="translate(0,73.63) scale(1,0.905) translate(0,-75.1)">)</text>
<line class="d" x1="1139.5" y1="124.3" x2="1139.5" y2="145.8"/>
<line class="d" x1="1311.5" y1="124.3" x2="1311.5" y2="145.8"/>
<line class="d" x1="1094.8" y1="135.5" x2="1157.5" y2="135.5"/>
<line class="d" x1="1293.6" y1="135.5" x2="1356" y2="135.5"/>
<path class="a" d="M1139.6,135.3 L1117.3,139.2 L1117.3,131.4 Z"/>
<path class="a" d="M1311.5,135.3 L1334,131.4 L1334,139.2 Z"/>
<text class="t" x="1191.47" y="125.75" font-size="31.01" textLength="68.55" lengthAdjust="spacingAndGlyphs">4.60&quot;</text>
<text class="t" x="1162.63" y="162.7" font-size="30.29" textLength="10.31" lengthAdjust="spacingAndGlyphs" transform="translate(0,161.23) scale(1,0.905) translate(0,-162.7)">(</text><text class="t" x="1172.94" y="162.7" font-size="30.29" textLength="51.65" lengthAdjust="spacingAndGlyphs">117</text><text class="t" x="1224.59" y="162.7" font-size="30.29" textLength="51.57" lengthAdjust="spacingAndGlyphs" transform="translate(0,162.7) scale(1,0.91) translate(0,-162.7)">mm</text><text class="t" x="1276.16" y="162.7" font-size="30.29" textLength="10.31" lengthAdjust="spacingAndGlyphs" transform="translate(0,161.23) scale(1,0.905) translate(0,-162.7)">)</text>
<line class="d" x1="903.4" y1="257.5" x2="949.9" y2="257.5"/>
<line class="d" x1="903.3" y1="845.5" x2="949.4" y2="845.5"/>
<line class="d" x1="915.5" y1="257.3" x2="915.5" y2="459"/>
<line class="d" x1="915.5" y1="596.6" x2="915.5" y2="845.4"/>
<path class="a" d="M915.5,257.3 L919.4,279.2 L911.6,279.2 Z"/>
<path class="a" d="M915.5,845.4 L911.6,823 L919.4,823 Z"/>
<g transform="translate(906.1,569.8) rotate(-90)"><text class="t" x="-1.8" y="0" font-size="31.74" textLength="84.4" lengthAdjust="spacingAndGlyphs">15.74&quot;</text></g>
<g transform="translate(942.8,589) rotate(-90)"><text class="t" x="-1.45" y="0" font-size="31.74" textLength="10.21" lengthAdjust="spacingAndGlyphs" transform="translate(0,-1.52) scale(1,0.905) translate(0,0)">(</text><text class="t" x="8.76" y="0" font-size="31.74" textLength="51.18" lengthAdjust="spacingAndGlyphs">400</text><text class="t" x="59.94" y="0" font-size="31.74" textLength="51.1" lengthAdjust="spacingAndGlyphs" transform="translate(0,0) scale(1,0.91) translate(0,0)">mm</text><text class="t" x="111.04" y="0" font-size="31.74" textLength="10.21" lengthAdjust="spacingAndGlyphs" transform="translate(0,-1.52) scale(1,0.905) translate(0,0)">)</text></g>
<line class="d" x1="1388.5" y1="553.1" x2="1388.5" y2="621.4"/>
<line class="d" x1="1388.5" y1="758.7" x2="1388.5" y2="826"/>
<line class="d" x1="1378.9" y1="597.5" x2="1400.7" y2="597.5"/>
<line class="d" x1="1378.9" y1="782.5" x2="1400.7" y2="782.5"/>
<path class="a" d="M1388.9,597.2 L1385,575 L1392.8,575 Z"/>
<path class="a" d="M1388.9,782.9 L1392.8,805 L1385,805 Z"/>
<g transform="translate(1379.6,724.5) rotate(-90)"><text class="t" x="-0.23" y="0" font-size="31.74" textLength="68.34" lengthAdjust="spacingAndGlyphs">4.96&quot;</text></g>
<g transform="translate(1416.7,750.8) rotate(-90)"><text class="t" x="-1.46" y="0" font-size="31.01" textLength="10.26" lengthAdjust="spacingAndGlyphs" transform="translate(0,-1.49) scale(1,0.905) translate(0,0)">(</text><text class="t" x="8.8" y="0" font-size="31.01" textLength="51.39" lengthAdjust="spacingAndGlyphs">126</text><text class="t" x="60.19" y="0" font-size="31.01" textLength="51.32" lengthAdjust="spacingAndGlyphs" transform="translate(0,0) scale(1,0.91) translate(0,0)">mm</text><text class="t" x="111.5" y="0" font-size="31.01" textLength="10.26" lengthAdjust="spacingAndGlyphs" transform="translate(0,-1.49) scale(1,0.905) translate(0,0)">)</text></g>
<line class="d" x1="1329.5" y1="801.2" x2="1329.5" y2="932.5"/>
<path class="a" d="M1329.3,844.8 L1325.4,823.7 L1333.2,823.7 Z"/>
<path class="a" d="M1329.3,870.3 L1333.2,892.2 L1325.4,892.2 Z"/>
<line class="d" x1="1304.4" y1="845.5" x2="1341" y2="845.5"/>
<line class="d" x1="1232.2" y1="870.5" x2="1341" y2="870.5"/>
<g transform="translate(1319.9,1073.4) rotate(-90)"><text class="t" x="-2.02" y="0" font-size="31.01" textLength="134.65" lengthAdjust="spacingAndGlyphs">MAX1.18&quot;</text></g>
<g transform="translate(1356.7,1058.9) rotate(-90)"><text class="t" x="-1.46" y="0" font-size="31.74" textLength="10.26" lengthAdjust="spacingAndGlyphs" transform="translate(0,-1.52) scale(1,0.905) translate(0,0)">(</text><text class="t" x="8.8" y="0" font-size="31.74" textLength="34.27" lengthAdjust="spacingAndGlyphs">30</text><text class="t" x="43.07" y="0" font-size="31.74" textLength="51.33" lengthAdjust="spacingAndGlyphs" transform="translate(0,0) scale(1,0.91) translate(0,0)">mm</text><text class="t" x="94.4" y="0" font-size="31.74" textLength="10.26" lengthAdjust="spacingAndGlyphs" transform="translate(0,-1.52) scale(1,0.905) translate(0,0)">)</text></g>
<path class="d" d="M1161.3,858.4 L1076.9,923 L958,923"/>
<path class="a" d="M1161.3,858.4 L1146.17,874.9 L1141.43,868.7 Z"/>
<text class="t" x="983.19" y="878.4" font-size="28.41" textLength="62.21" lengthAdjust="spacingAndGlyphs">1.25&quot;</text>
<text class="t" x="952.94" y="911.7" font-size="27.97" textLength="9.18" lengthAdjust="spacingAndGlyphs" transform="translate(0,910.3) scale(1,0.905) translate(0,-911.7)">(</text><text class="t" x="962.12" y="911.7" font-size="27.97" textLength="53.64" lengthAdjust="spacingAndGlyphs">M32</text><text class="t" x="1015.76" y="911.7" font-size="27.97" textLength="13.79" lengthAdjust="spacingAndGlyphs" transform="translate(0,911.7) scale(1,0.91) translate(0,-911.7)">x</text><text class="t" x="1029.55" y="911.7" font-size="27.97" textLength="38.33" lengthAdjust="spacingAndGlyphs">1.5</text><text class="t" x="1067.88" y="911.7" font-size="27.97" textLength="9.18" lengthAdjust="spacingAndGlyphs" transform="translate(0,910.3) scale(1,0.905) translate(0,-911.7)">)</text>
<path class="d" d="M1056.6,1378.9 L1020.2,1428.4 L876.5,1428.4"/>
<path class="a" d="M1056.6,1378.9 L1046.74,1398.91 L1040.46,1394.29 Z"/>
<text class="t" x="927.95" y="1390.5" font-size="28.7" textLength="40.58" lengthAdjust="spacingAndGlyphs">60&quot;</text>
<text class="t" x="884.97" y="1424.2" font-size="28.55" textLength="9.3" lengthAdjust="spacingAndGlyphs" transform="translate(0,1422.79) scale(1,0.905) translate(0,-1424.2)">(</text><text class="t" x="894.27" y="1424.2" font-size="28.55" textLength="62.11" lengthAdjust="spacingAndGlyphs">1500</text><text class="t" x="956.37" y="1424.2" font-size="28.55" textLength="46.51" lengthAdjust="spacingAndGlyphs" transform="translate(0,1424.2) scale(1,0.91) translate(0,-1424.2)">mm</text><text class="t" x="1002.88" y="1424.2" font-size="28.55" textLength="9.3" lengthAdjust="spacingAndGlyphs" transform="translate(0,1422.79) scale(1,0.905) translate(0,-1424.2)">)</text>
<path class="d" d="M1201.3,1440.5 L1247.4,1477.6 L1373.4,1477.6"/>
<path class="a" d="M1201.3,1440.5 L1220.94,1451.26 L1216.06,1457.34 Z"/>
<text class="t" x="1283.66" y="1439.3" font-size="28.41" textLength="40.67" lengthAdjust="spacingAndGlyphs">24&quot;</text>
<text class="t" x="1248.31" y="1473" font-size="28.55" textLength="9.32" lengthAdjust="spacingAndGlyphs" transform="translate(0,1471.59) scale(1,0.905) translate(0,-1473)">(</text><text class="t" x="1257.64" y="1473" font-size="28.55" textLength="46.7" lengthAdjust="spacingAndGlyphs">600</text><text class="t" x="1304.33" y="1473" font-size="28.55" textLength="46.63" lengthAdjust="spacingAndGlyphs" transform="translate(0,1473) scale(1,0.91) translate(0,-1473)">mm</text><text class="t" x="1350.96" y="1473" font-size="28.55" textLength="9.32" lengthAdjust="spacingAndGlyphs" transform="translate(0,1471.59) scale(1,0.905) translate(0,-1473)">)</text>
<line class="d" x1="1181.5" y1="1545" x2="1181.5" y2="1577.8"/>
<line class="d" x1="1203.5" y1="1545" x2="1203.5" y2="1577.8"/>
<line class="d" x1="1148.4" y1="1563.5" x2="1181.7" y2="1563.5"/>
<line class="d" x1="1203.5" y1="1563.5" x2="1236.1" y2="1563.5"/>
<path class="a" d="M1181.7,1563.6 L1160,1567.5 L1160,1559.7 Z"/>
<path class="a" d="M1203.5,1563.6 L1225,1559.7 L1225,1567.5 Z"/>
<text class="t" x="1242.36" y="1573.6" font-size="27.97" textLength="199.59" lengthAdjust="spacingAndGlyphs">G9/16-24&quot;UNEF</text>
<g class="cn">
<path d="M454.5,861.7 L476.3,861.1 M452.7,870.7 L478.1,870.3 M460.9,861.6 L460.7,871.5 Q460,878.5 453.2,884 M469.5,861.4 L469.4,884.2"/>
<path d="M481.5,862.3 L492.8,862 L487.2,867.4 M487.2,866.8 L487.2,882 Q487,883.6 484,881.6 M480.8,873.6 L494.8,867.6 M497.7,859.3 L497.5,880.2 Q497.6,882.9 500,882.9 L503.3,882.9 Q505.3,882.9 505.6,877"/>
</g>

</svg>
</body></html>
